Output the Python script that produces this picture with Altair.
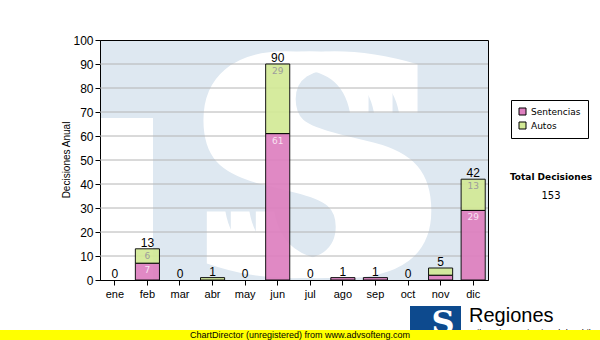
import altair as alt
import pandas as pd

months = ["ene", "feb", "mar", "abr", "may", "jun", "jul", "ago", "sep", "oct", "nov", "dic"]
sentencias = [0, 7, 0, 0, 0, 61, 0, 1, 1, 0, 2, 29]
autos = [0, 6, 0, 1, 0, 29, 0, 0, 0, 0, 3, 13]
series_names = ["Sentencias", "Autos"]
y_ticks = list(range(0, 101, 10))

PINK = "#de7fbf"
GREEN = "#d3ea96"
BG = "#dee8f1"
FONT = "Liberation Sans"

rows = []
for i, m in enumerate(months):
    rows.append({"month": m, "series": "Sentencias", "order": 0, "value": sentencias[i]})
    rows.append({"month": m, "series": "Autos", "order": 1, "value": autos[i]})
df = pd.DataFrame(rows)
grand_total = sum(sentencias) + sum(autos)

W, H = 388, 240
PL, PT = 100, 40
PR, PB = 600 - PL - W, 340 - PT - H

one = pd.DataFrame({"k": [0]})
grid_df = pd.DataFrame({"t": y_ticks[1:-1]})

x_enc = alt.X(
    "month:N", sort=months,
    scale=alt.Scale(domain=months, paddingInner=0.26, paddingOuter=0.085),
    axis=alt.Axis(title=None, labelFont=FONT, labelFontSize=11, labelAngle=0, labelColor="black",
                  tickSize=5, tickColor="black", domainColor="black", labelPadding=3, grid=False),
)
y_scale = alt.Scale(domain=[0, 100], nice=False, zero=True)
y_axis = alt.Axis(title=None, values=y_ticks, labelFont=FONT, labelFontSize=12, labelColor="black",
                  tickSize=5, tickColor="black", domainColor="black", labelPadding=2, grid=False)

# watermark pieces (decoration)
wm_rect = alt.Chart(one).mark_rect(color="white").encode(
    x=alt.value(1), x2=alt.value(53), y=alt.value(78), y2=alt.value(H)
)
def wm_glyph(cx):
    return alt.Chart(one).mark_text(
        text="S", font="DejaVu Serif", fontWeight="bold", fontSize=300, color="white",
        align="center", baseline="alphabetic"
    ).encode(x=alt.value(cx), y=alt.value(234))
wm_s1 = wm_glyph(192)
wm_s2 = wm_glyph(216)
wm_s3 = wm_glyph(241)

grid = alt.Chart(grid_df).mark_rule(color="#b4b4b4", strokeWidth=1).encode(
    y=alt.Y("t:Q", scale=y_scale, axis=y_axis)
)

bars = alt.Chart(df).transform_filter("datum.value > 0").mark_bar(
    stroke="black", strokeWidth=1, opacity=0.92
).encode(
    x=x_enc,
    y=alt.Y("value:Q", stack="zero", scale=y_scale, axis=y_axis),
    color=alt.Color(
        "series:N",
        scale=alt.Scale(domain=series_names, range=[PINK, GREEN]),
        legend=alt.Legend(
            orient="none", legendX=411, legendY=60, title=None,
            symbolType="square", symbolSize=49, symbolStrokeColor="black", symbolStrokeWidth=1,
            symbolOpacity=1, labelFont="DejaVu Sans", labelFontSize=9, labelColor="black",
            labelOffset=4, padding=7, strokeColor="black", fillColor="white", rowPadding=3,
            symbolOffset=0, labelExpr="datum.label + '\u2003\u2002'",
        ),
    ),
    order=alt.Order("order:Q"),
)

seg_labels = alt.Chart(df).transform_stack(
    stack="value", groupby=["month"], sort=[alt.SortField("order")], as_=["v0", "v1"]
).transform_filter("datum.value >= 5").mark_text(
    font="DejaVu Sans", fontSize=9, baseline="top", dy=3
).encode(
    x=x_enc,
    y=alt.Y("v1:Q", scale=y_scale, axis=y_axis),
    text="value:Q",
    color=alt.condition(alt.datum.series == "Sentencias", alt.value("#f8e2f2"), alt.value("#9c9c9c")),
)

tot_labels = alt.Chart(df).transform_aggregate(
    total="sum(value)", groupby=["month"]
).mark_text(font=FONT, fontSize=12, baseline="alphabetic", dy=-2, color="black").encode(
    x=x_enc,
    y=alt.Y("total:Q", scale=y_scale, axis=y_axis),
    text="total:Q",
)

y_title = alt.Chart(one).mark_text(
    text="Decisiones Anual", font=FONT, fontSize=10, angle=270, align="center", baseline="middle",
    color="black"
).encode(x=alt.value(-33), y=alt.value(H / 2))

tot_title = alt.Chart(one).mark_text(
    text="Total Decisiones", font="DejaVu Sans", fontWeight="bold", fontSize=9, align="center",
    baseline="middle", color="black"
).encode(x=alt.value(451), y=alt.value(137))

tot_value = alt.Chart(one).mark_text(
    text=str(grand_total), font="DejaVu Sans", fontSize=10, align="center",
    baseline="middle", color="black"
).encode(x=alt.value(451), y=alt.value(156))

logo_box = alt.Chart(one).mark_rect(color="#0d4a8e").encode(
    x=alt.value(310), x2=alt.value(361), y=alt.value(266), y2=alt.value(300)
)
logo_s = alt.Chart(one).mark_text(
    text="S", font="DejaVu Serif", fontWeight="bold", fontSize=32, color="white",
    align="center", baseline="alphabetic"
).encode(x=alt.value(343), y=alt.value(293))
logo_text = alt.Chart(one).mark_text(
    text="Regiones", font=FONT, fontSize=20, align="left", baseline="middle", color="black"
).encode(x=alt.value(369), y=alt.value(276))
sub_text = alt.Chart(one).mark_text(
    text="Tribunal Constitucional de Chile", font=FONT, fontSize=9,
    align="left", baseline="top", color="black"
).encode(x=alt.value(369), y=alt.value(289))

yellow = alt.Chart(one).mark_rect(color="#ffff00").encode(
    x=alt.value(-PL), x2=alt.value(W + PR), y=alt.value(290), y2=alt.value(300)
)
cd_text = alt.Chart(one).mark_text(
    text="ChartDirector (unregistered) from www.advsofteng.com", font=FONT, fontSize=9,
    align="center", baseline="middle", color="black"
).encode(x=alt.value(200), y=alt.value(295))

chart = alt.layer(
    wm_rect, wm_s1, wm_s2, wm_s3, grid, bars, seg_labels, tot_labels, y_title, tot_title, tot_value,
    logo_box, logo_s, logo_text, sub_text, yellow, cd_text
).properties(
    width=W, height=H,
    autosize=alt.AutoSizeParams(type="none"),
    padding={"left": PL, "top": PT, "right": PR, "bottom": PB},
    background="white",
).configure_view(
    fill=BG, stroke="black", strokeWidth=1
)

chart.save("out.html", embed_options={"renderer": "svg", "actions": False})
